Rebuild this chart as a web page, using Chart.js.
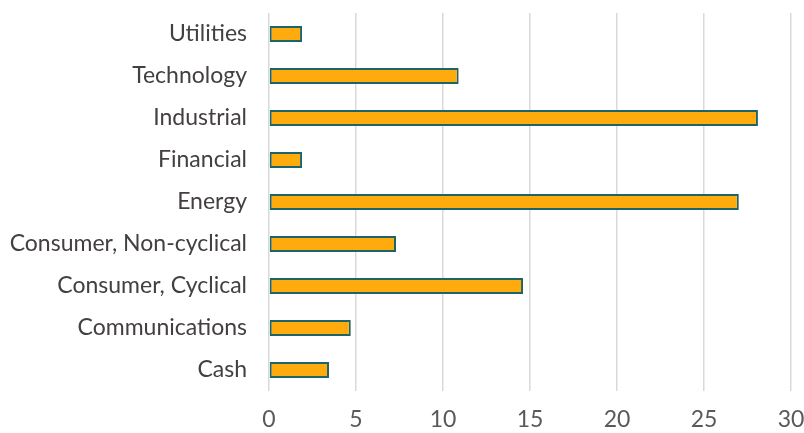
<!DOCTYPE html>
<html>
<head>
<meta charset="utf-8">
<script src="https://cdn.jsdelivr.net/npm/chart.js@4/dist/chart.umd.min.js"></script>
<style>
  html, body { margin: 0; padding: 0; background: #fff; }
  #wrap { width: 804px; height: 433px; }
</style>
</head>
<body>
<div id="wrap"><canvas id="sectorChart"></canvas></div>
<script>
// Sector weights
const sectors = ['Utilities', 'Technology', 'Industrial', 'Financial', 'Energy',
  'Consumer, Non-cyclical', 'Consumer, Cyclical', 'Communications', 'Cash'];
const weights = [1.9, 10.9, 28.1, 1.9, 27.0, 7.3, 14.6, 4.7, 3.45];
const xTicks = [0, 5, 10, 15, 20, 25, 30];

const labelFont = { family: 'Lato', size: 23 };

new Chart(document.getElementById('sectorChart'), {
  type: 'bar',
  data: {
    labels: sectors,
    datasets: [{
      data: weights,
      backgroundColor: '#ffaa0d',
      borderColor: '#1c6467',
      borderWidth: 2,
      borderSkipped: false,
      categoryPercentage: 1,
      barPercentage: 0.38
    }]
  },
  options: {
    indexAxis: 'y',
    responsive: true,
    maintainAspectRatio: false,
    animation: false,
    layout: { padding: { top: 13, right: 13, left: 0, bottom: 0 } },
    plugins: {
      legend: { display: false },
      tooltip: { enabled: false }
    },
    scales: {
      x: {
        min: 0,
        max: 30,
        afterBuildTicks: function(axis) {
          axis.ticks = xTicks.map(v => ({ value: v }));
        },
        grid: { color: '#d9d9d9', lineWidth: 1.5, drawTicks: false },
        border: { display: false },
        ticks: { font: labelFont, color: '#595959', padding: 15 },
        afterFit: function(axis) {
          axis.height = 42;
          axis.paddingLeft = 0;
          axis.paddingRight = 0;
        }
      },
      y: {
        grid: { display: false, drawTicks: false },
        border: { display: false },
        ticks: { font: labelFont, color: '#43403f', padding: 22 },
        afterFit: function(axis) {
          axis.width = 269;
          axis.paddingTop = 0;
          axis.paddingBottom = 0;
        }
      }
    }
  }
});
</script>
</body>
</html>
